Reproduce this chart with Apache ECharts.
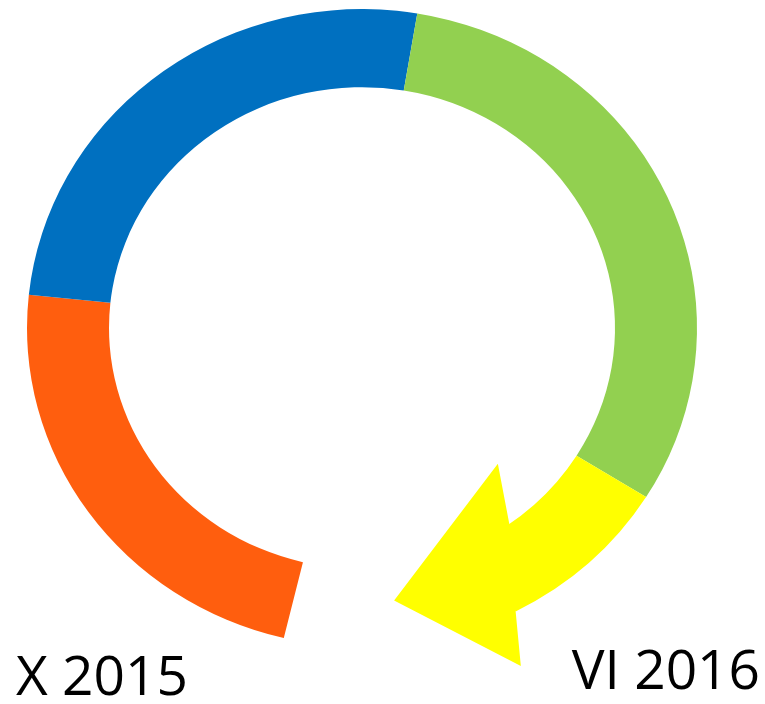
<!DOCTYPE html>
<html>
<head>
<meta charset="utf-8">
<title>X 2015 – VI 2016</title>
<script src="https://cdn.jsdelivr.net/npm/echarts@6/dist/echarts.min.js"></script>
<style>
  html, body { margin: 0; padding: 0; background: #fff; }
  #chart { width: 765px; height: 704px; }
</style>
</head>
<body>
<div id="chart"></div>
<script>
// ring segments, clockwise, in degrees of arc
var phases = ['etap 1', 'etap 2', 'etap 3', 'etap 4'];
var arcDegrees = [82.5, 93.5, 112.5, 30.7];
var phaseColors = ['#FF5E0E', '#0070C0', '#92D050', '#FFFF00'];
var firstAngle = 103.5; // start of the first arc, clockwise from 3 o'clock
var startLabel = 'X 2015';
var endLabel = 'VI 2016';

var cx = 362, cy = 328, rOuter = 335, rInner = 253, squash = 0.952;
var rad = Math.PI / 180;

var data = [];
var acc = firstAngle;
for (var i = 0; i < arcDegrees.length; i++) {
  data.push({ name: phases[i], value: [acc, acc + arcDegrees[i]] });
  acc += arcDegrees[i];
}

function renderItem(params, api) {
  var a0 = api.value(0) * rad, a1 = api.value(1) * rad;
  var color = phaseColors[params.dataIndex];
  var children = [{
    type: 'sector',
    shape: { cx: cx, cy: cy, r0: rInner, r: rOuter, startAngle: a0, endAngle: a1, clockwise: true },
    style: { fill: color }
  }];
  // arrow head on the last arc
  if (params.dataIndex === arcDegrees.length - 1) {
    var mid = (rInner + rOuter) / 2;
    var pt = function (da, r) {
      var a = a1 + da * rad;
      return [cx + r * Math.cos(a), cy + r * Math.sin(a)];
    };
    children.push({
      type: 'polygon',
      shape: { points: [pt(-8.3, rInner), pt(-16.3, mid - 97), pt(20.9, mid - 6), pt(3.2, mid + 95), pt(0, rOuter)] },
      style: { fill: color }
    });
  }
  return { type: 'group', originX: cx, originY: cy, scaleY: squash, children: children };
}

var chart = echarts.init(document.getElementById('chart'));
chart.setOption({
  backgroundColor: '#fff',
  animation: false,
  series: [{
    type: 'custom',
    coordinateSystem: 'none',
    renderItem: renderItem,
    data: data
  }],
  graphic: [
    { type: 'text', x: 16, y: 679, style: { text: startLabel, font: '55px "Open Sans"', fill: '#000', align: 'left', verticalAlign: 'middle' } },
    { type: 'text', x: 760, y: 673, style: { text: endLabel, font: '55px "Open Sans"', fill: '#000', align: 'right', verticalAlign: 'middle' } }
  ]
});
</script>
</body>
</html>
